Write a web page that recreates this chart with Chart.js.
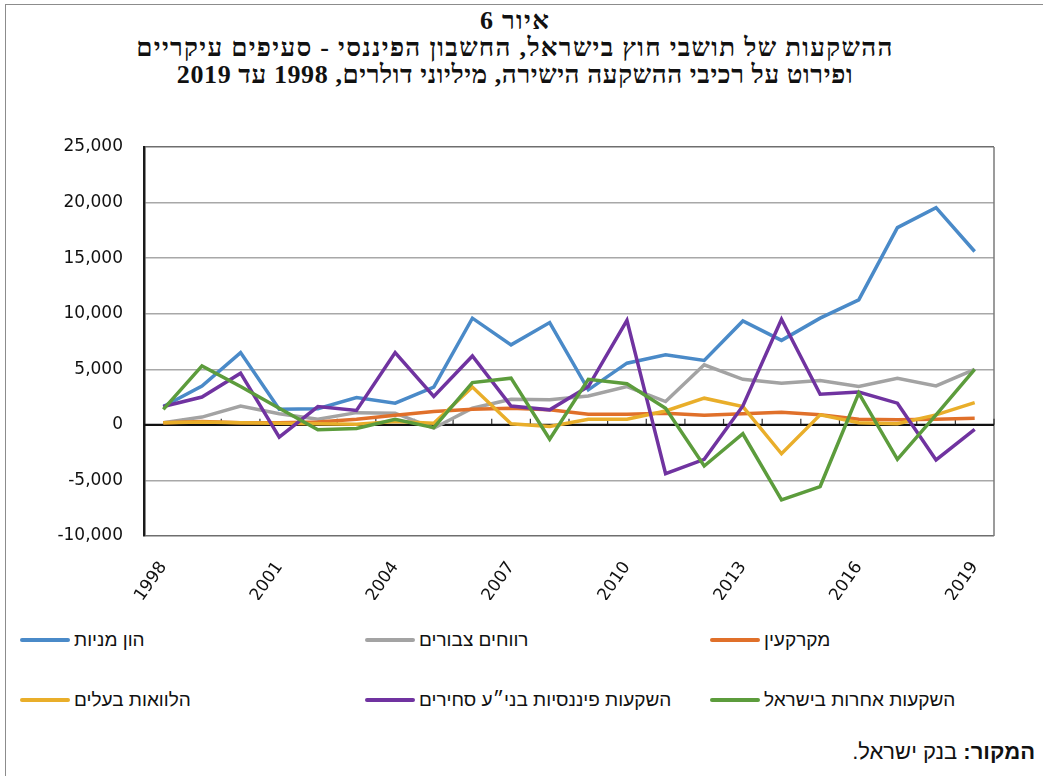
<!DOCTYPE html>
<html lang="he">
<head>
<meta charset="utf-8">
<script src="https://cdn.jsdelivr.net/npm/chart.js@4.4.1/dist/chart.umd.min.js"></script>
<style>
  body { margin: 0; background: #fff; }
  #wrap { position: relative; width: 1043px; height: 776px; overflow: hidden; }
  #frame { position: absolute; left: 5px; top: 4px; right: -2px; bottom: -2px;
           border-top: 1.5px solid #8c8c8c; border-left: 1.5px solid #8c8c8c; }
  #title { position: absolute; left: 0; width: 1030px; top: 7px; text-align: center; direction: rtl;
           font-family: "Liberation Serif", serif; font-weight: bold; font-size: 26px; line-height: 27px;
           letter-spacing: 1.3px; color: #111; }
  #title .l3 { letter-spacing: 0.6px; }
  #chart { position: absolute; left: 0; top: 0; }
  .leg { position: absolute; direction: ltr; display: flex; align-items: center;
         font-family: "Liberation Sans", "DejaVu Sans", sans-serif; font-size: 19px; color: #111; white-space: nowrap; }
  .leg span.ln { display: inline-block; width: 50px; height: 4px; border-radius: 2px; margin-right: 4px; }
  #source { position: absolute; right: 8px; top: 739px; direction: rtl;
            font-family: "Liberation Sans", "DejaVu Sans", sans-serif; font-size: 22px; color: #111; }
</style>
</head>
<body>
<div id="wrap">
  <div id="frame"></div>
  <div id="title">איור 6<br>ההשקעות של תושבי חוץ בישראל, החשבון הפיננסי - סעיפים עיקריים<br><span class="l3">ופירוט על רכיבי ההשקעה הישירה, מיליוני דולרים, 1998 עד 2019</span></div>
  <canvas id="chart" width="1043" height="600"></canvas>
  <div id="legend"></div>
  <div id="source"><b>המקור:</b> בנק ישראל.</div>
</div>
<script>
// נתונים - מיליוני דולרים
var years = [1998,1999,2000,2001,2002,2003,2004,2005,2006,2007,2008,2009,2010,2011,2012,2013,2014,2015,2016,2017,2018,2019];
var honMenayot = [1650,3500,6500,1400,1450,2450,1950,3400,9600,7200,9200,3150,5550,6300,5800,9350,7600,9600,11250,17750,19550,15600];
var revachim = [200,700,1700,1000,500,1100,1050,-300,1500,2300,2250,2600,3450,2100,5400,4100,3750,4000,3450,4200,3500,5000];
var mekarkein = [200,300,200,200,250,500,870,1200,1400,1500,1350,950,950,1050,870,1000,1130,900,500,450,500,600];
var halvaot = [200,250,200,150,100,50,300,150,3400,100,-150,500,500,1250,2400,1650,-2600,900,200,100,900,2000];
var pinansiot = [1650,2500,4650,-1100,1650,1300,6500,2550,6200,1700,1350,3450,9400,-4400,-3100,1700,9500,2750,2950,1950,-3150,-400];
var acherot = [1400,5300,3450,1500,-450,-330,500,-250,3800,4200,-1300,4100,3700,1500,-3700,-800,-6750,-5550,2850,-3100,900,5000];

var names = ["הון מניות","רווחים צבורים","מקרקעין","הלוואות בעלים","השקעות פיננסיות בני״ע סחירים ","השקעות אחרות בישראל"];
var colors = ["#4a8ac8","#a3a3a3","#e0702a","#e9ae2a","#7033a0","#5c9c3c"];
var series = [honMenayot, revachim, mekarkein, halvaot, pinansiot, acherot];

var datasets = [];
for (var i = 0; i < series.length; i++) {
  datasets.push({
    label: names[i],
    data: series[i],
    borderColor: colors[i],
    backgroundColor: colors[i],
    borderWidth: 3.5,
    pointRadius: 0,
    tension: 0,
    order: series.length - i // excel style: last series on top
  });
}

// מסגרת אזור הגרף + שנתות על קו האפס
var framePlugin = {
  id: 'framePlugin',
  beforeDatasetsDraw: function(chart) {
    var a = chart.chartArea, ctx = chart.ctx;
    var x = chart.scales.x, y = chart.scales.y;
    ctx.save();
    ctx.strokeStyle = '#7a7a7a';
    ctx.lineWidth = 1.5;
    ctx.beginPath();
    ctx.moveTo(a.right, a.top);
    ctx.lineTo(a.right, a.bottom);
    ctx.stroke();
    var y0 = y.getPixelForValue(0);
    var step = (x.right - x.left) / years.length;
    ctx.strokeStyle = '#333';
    ctx.lineWidth = 1.2;
    for (var k = 1; k <= years.length; k++) {
      var xx = x.left + k * step;
      ctx.beginPath();
      ctx.moveTo(xx, y0);
      ctx.lineTo(xx, y0 - 6);
      ctx.stroke();
    }
    ctx.strokeStyle = '#111';
    ctx.lineWidth = 2.2;
    ctx.beginPath();
    ctx.moveTo(a.left, y0);
    ctx.lineTo(a.right, y0);
    ctx.stroke();
    ctx.restore();
  }
};

var ctx = document.getElementById("chart").getContext("2d");
var myChart = new Chart(ctx, {
  type: 'line',
  data: { labels: years, datasets: datasets },
  plugins: [framePlugin],
  options: {
    responsive: false,
    animation: false,
    layout: { padding: { top: 147, right: 49, left: 0, bottom: 0 } },
    plugins: { legend: { display: false }, title: { display: false }, tooltip: { enabled: false } },
    scales: {
      x: {
        offset: true,
        grid: { display: false, drawTicks: false },
        border: { display: false },
        afterFit: function(s) { s.height = 64; },
        ticks: {
          autoSkip: false,
          maxRotation: 55, minRotation: 55,
          padding: 22,
          color: '#111',
          font: { family: 'DejaVu Sans', size: 17 },
          callback: function(v, idx) { return idx % 3 === 0 ? years[idx] : ''; }
        }
      },
      y: {
        min: -10000, max: 25000,
        afterFit: function(s) { s.width = 144; },
        grid: {
          drawTicks: false,
          lineWidth: 1.5,
          color: function(c) {
            var v = c.tick ? c.tick.value : null;
            if (v === 25000 || v === -10000) return '#6e6e6e';
            return '#a8a8a8';
          }
        },
        border: { display: true, color: '#1a1a1a', width: 2.5 },
        ticks: {
          stepSize: 5000,
          padding: 21,
          color: '#111',
          font: { family: 'DejaVu Sans', size: 17 },
          callback: function(v) { return v.toLocaleString('en-US'); }
        }
      }
    }
  }
});

// מקרא בשלוש עמודות
var legX = [20, 365, 710];
var legY = [629, 689];
var legend = document.getElementById('legend');
for (var j = 0; j < names.length; j++) {
  var d = document.createElement('div');
  d.className = 'leg';
  d.style.left = legX[j % 3] + 'px';
  d.style.top = legY[Math.floor(j / 3)] + 'px';
  d.innerHTML = '<span class="ln" style="background:' + colors[j] + '"></span><span dir="rtl">' + names[j] + '</span>';
  legend.appendChild(d);
}
</script>
</body>
</html>
